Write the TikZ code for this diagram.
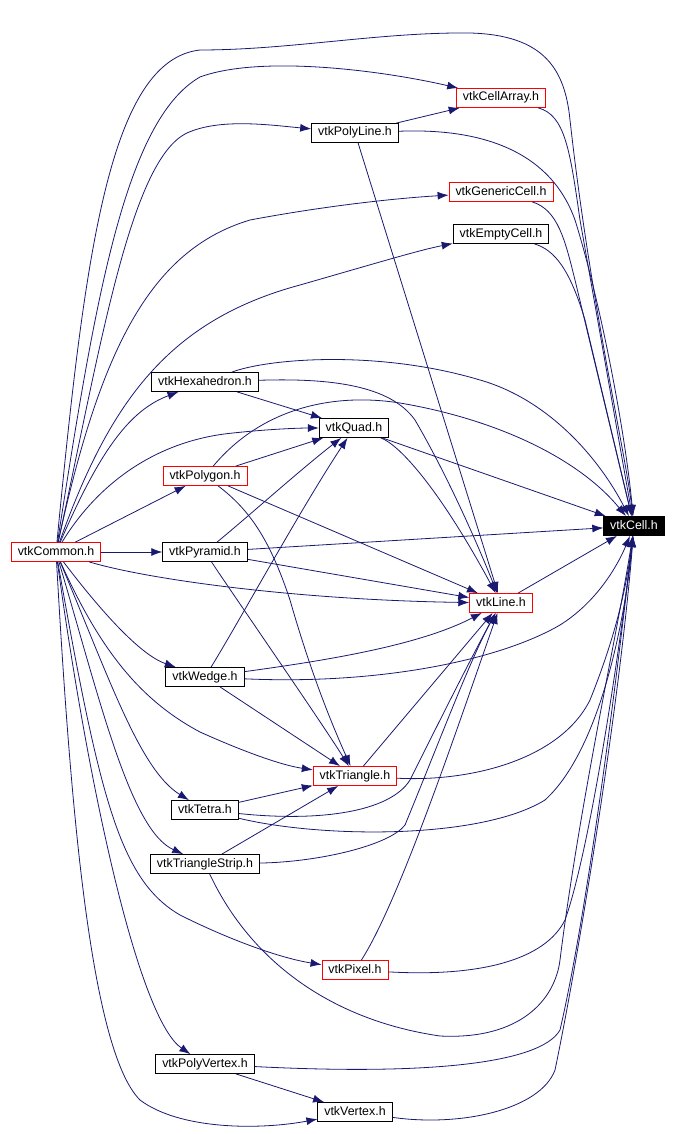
\documentclass[tikz,border=0pt]{standalone}
\usepackage{fontspec}
\setmainfont{Liberation Sans}
\usetikzlibrary{arrows.meta}
\definecolor{edgeblue}{HTML}{191970}

\begin{document}
\begin{tikzpicture}[x=1pt,y=-1pt,>={Latex[length=11pt,width=8pt]},
    hdr/.style={draw=black,line width=0.8pt,fill=white,inner xsep=6.5pt,inner ysep=3.5pt,
      text height=9pt,text depth=3pt,font=\fontsize{12.4}{14}\selectfont},
    hdrred/.style={hdr,draw=red},
    hdrmain/.style={hdr,fill=black,text=white},
    dep/.style={->,draw=edgeblue,line width=0.8pt}]
    \useasboundingbox (0,0) rectangle (680,1134);
    % headers
    \node[hdrred]  (common)     at (56,552)  {vtkCommon.h};
    \node[hdrmain] (cell)       at (634,526) {vtkCell.h};
    \node[hdrred]  (cellarray)  at (501,98)  {vtkCellArray.h};
    \node[hdr]     (polyline)   at (355,133) {vtkPolyLine.h};
    \node[hdrred]  (generic)    at (501,192) {vtkGenericCell.h};
    \node[hdr]     (empty)      at (501,234) {vtkEmptyCell.h};
    \node[hdr]     (hexa)       at (205,382) {vtkHexahedron.h};
    \node[hdr]     (quad)       at (354,428) {vtkQuad.h};
    \node[hdrred]  (polygon)    at (205,476) {vtkPolygon.h};
    \node[hdr]     (pyramid)    at (205,552) {vtkPyramid.h};
    \node[hdrred]  (line)       at (501,603) {vtkLine.h};
    \node[hdr]     (wedge)      at (205,677) {vtkWedge.h};
    \node[hdrred]  (triangle)   at (355,776) {vtkTriangle.h};
    \node[hdr]     (tetra)      at (205,810) {vtkTetra.h};
    \node[hdr]     (strip)      at (205,864) {vtkTriangleStrip.h};
    \node[hdrred]  (pixel)      at (355,970) {vtkPixel.h};
    \node[hdr]     (polyvertex) at (205,1064) {vtkPolyVertex.h};
    \node[hdr]     (vertex)     at (355,1112) {vtkVertex.h};

    % from vtkCommon.h
    \draw[dep] (common) .. controls (85,250) and (110,60) .. (200,50)
      .. controls (290,50) and (380,32) .. (470,33)
      .. controls (545,35) and (565,70) .. (570,120)
      .. controls (590,300) and (625,450) .. (cell);
    \draw[dep] (common) .. controls (95,300) and (125,120) .. (200,77)
      .. controls (260,55) and (380,70) .. (cellarray);
    \draw[dep] (common) .. controls (100,350) and (130,160) .. (187,133)
      .. controls (220,118) and (270,125) .. (polyline);
    \draw[dep] (common) .. controls (100,350) and (150,250) .. (250,220)
      .. controls (330,205) and (400,198) .. (generic);
    \draw[dep] (common) .. controls (110,400) and (170,320) .. (300,285)
      .. controls (380,262) and (420,250) .. (empty);
    \draw[dep] (common) .. controls (100,450) and (130,410) .. (hexa);
    \draw[dep] (common) .. controls (100,480) and (160,440) .. (233,433)
      .. controls (270,429) and (300,428) .. (quad);
    \draw[dep] (common) -- (polygon);
    \draw[dep] (common) -- (pyramid);
    \draw[dep] (common) .. controls (150,580) and (300,600) .. (line);
    \draw[dep] (common) .. controls (100,610) and (140,655) .. (wedge);
    \draw[dep] (common) .. controls (100,650) and (140,700) .. (200,732)
      .. controls (240,750) and (280,765) .. (triangle);
    \draw[dep] (common) .. controls (110,680) and (140,770) .. (tetra);
    \draw[dep] (common) .. controls (100,700) and (130,830) .. (strip);
    \draw[dep] (common) .. controls (100,800) and (120,880) .. (180,915)
      .. controls (230,940) and (280,958) .. (pixel);
    \draw[dep] (common) .. controls (90,800) and (140,1020) .. (polyvertex);
    \draw[dep] (common) .. controls (70,800) and (90,1050) .. (140,1100)
      .. controls (180,1130) and (260,1130) .. (vertex);

    % upper headers
    \draw[dep] (polyline) -- (cellarray);
    \draw[dep] (polyline) .. controls (480,128) and (550,150) .. (575,220)
      .. controls (600,300) and (625,430) .. (cell);
    \draw[dep] (polyline) -- (line);
    \draw[dep] (cellarray) .. controls (565,115) and (570,150) .. (580,220) -- (cell);
    \draw[dep] (generic) .. controls (558,210) and (565,240) .. (575,280) -- (cell);
    \draw[dep] (empty) .. controls (555,250) and (570,270) .. (585,320) -- (cell);

    % vtkHexahedron.h, vtkQuad.h, vtkPolygon.h
    \draw[dep] (hexa) .. controls (270,358) and (380,350) .. (480,380)
      .. controls (550,400) and (600,460) .. (cell);
    \draw[dep] (hexa) -- (quad);
    \draw[dep] (hexa) .. controls (330,378) and (390,385) .. (415,420)
      .. controls (450,480) and (480,550) .. (line);
    \draw[dep] (quad) .. controls (400,445) and (440,490) .. (line);
    \draw[dep] (quad) -- (cell);
    \draw[dep] (polygon) .. controls (260,410) and (330,392) .. (400,403)
      .. controls (500,420) and (580,460) .. (cell);
    \draw[dep] (polygon) -- (quad);
    \draw[dep] (polygon) -- (line);
    \draw[dep] (polygon) .. controls (250,510) and (270,540) .. (290,600)
      .. controls (310,670) and (330,720) .. (triangle);

    % vtkPyramid.h, vtkWedge.h
    \draw[dep] (pyramid) .. controls (250,515) and (300,470) .. (quad);
    \draw[dep] (pyramid) -- (cell);
    \draw[dep] (pyramid) -- (line);
    \draw[dep] (pyramid) .. controls (230,590) and (320,720) .. (triangle);
    \draw[dep] (wedge) .. controls (240,620) and (300,510) .. (quad);
    \draw[dep] (wedge) .. controls (330,660) and (420,645) .. (line);
    \draw[dep] (wedge) .. controls (380,685) and (500,660) .. (560,625)
      .. controls (600,600) and (620,560) .. (cell);
    \draw[dep] (wedge) -- (triangle);
    \draw[dep] (line) -- (cell);

    % lower headers
    \draw[dep] (triangle) -- (line);
    \draw[dep] (triangle) .. controls (470,782) and (560,760) .. (590,700)
      .. controls (610,650) and (625,600) .. (cell);
    \draw[dep] (tetra) -- (triangle);
    \draw[dep] (tetra) .. controls (320,822) and (390,812) .. (410,780)
      .. controls (440,720) and (470,660) .. (line);
    \draw[dep] (tetra) .. controls (320,838) and (480,840) .. (545,800)
      .. controls (600,750) and (625,620) .. (cell);
    \draw[dep] (strip) -- (triangle);
    \draw[dep] (strip) .. controls (320,862) and (390,845) .. (405,825)
      .. controls (440,740) and (470,660) .. (line);
    \draw[dep] (strip) .. controls (250,960) and (330,1020) .. (440,1036)
      .. controls (520,1040) and (555,1000) .. (560,960)
      .. controls (580,800) and (620,620) .. (cell);
    \draw[dep] (pixel) .. controls (400,900) and (460,720) .. (line);
    \draw[dep] (pixel) .. controls (480,977) and (545,960) .. (565,920)
      .. controls (590,850) and (620,650) .. (cell);
    \draw[dep] (polyvertex) -- (vertex);
    \draw[dep] (polyvertex) .. controls (420,1075) and (540,1065) .. (560,1030)
      .. controls (590,900) and (620,650) .. (cell);
    \draw[dep] (vertex) .. controls (460,1127) and (540,1110) .. (555,1070)
      .. controls (580,950) and (620,700) .. (cell);
  \end{tikzpicture}
\end{document}
